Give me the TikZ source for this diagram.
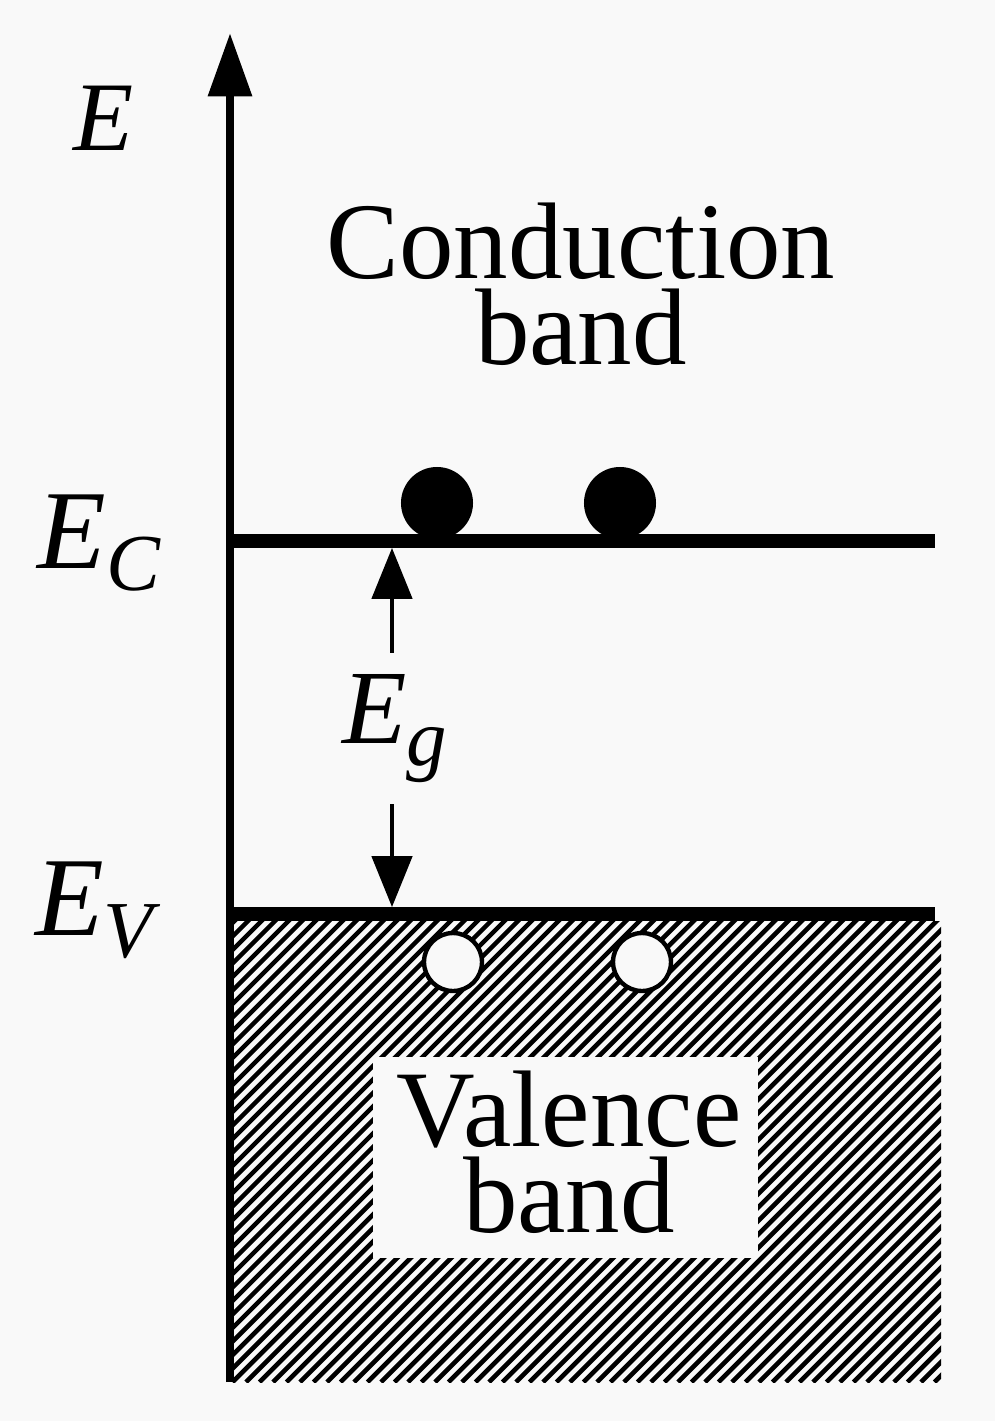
\documentclass[tikz,border=0pt]{standalone}
\usepackage{fontspec}
\setmainfont{Liberation Serif}
\usetikzlibrary{arrows.meta}
\definecolor{paper}{RGB}{249,249,249}
\newcommand{\lvlsub}[1]{\raisebox{-13pt}{\fontsize{46}{46}\selectfont\textit{#1}}}

\begin{document}
\begin{tikzpicture}[x=0.02cm, y=-0.02cm,
  level/.style={line width=8pt},
  axisline/.style={line width=5pt, -{Triangle[length=36pt, width=24pt]}},
  gaparrow/.style={line width=2pt, shorten <=12pt, -{Triangle[length=29pt, width=23pt]}},
  electron/.style={circle, fill=black, inner sep=0pt, minimum size=41pt},
  hole/.style={circle, draw=black, line width=2.5pt, fill=paper, inner sep=0pt, minimum size=33pt},
  bandtext/.style={font=\fontsize{62}{49}\selectfont, align=center, inner sep=0pt},
  elabel/.style={font=\fontsize{#1}{#1}\selectfont, inner sep=0pt, anchor=base}]
  \fill[paper] (0,0) rectangle (995,1421);
  \useasboundingbox (0,0) rectangle (995,1421);

  % axis ends and band edges
  \coordinate (eorig) at (230,1382);
  \coordinate (etop) at (230,33);
  \coordinate (ecl) at (230,541);
  \coordinate (ecr) at (935,541);
  \coordinate (evl) at (230,914);
  \coordinate (evr) at (935,914);
  \coordinate (gaptop) at (392,548);
  \coordinate (gapbot) at (392,907);

  % filled valence band
  \begin{scope}
    \clip (230,921) rectangle (941,1382);
    \foreach \x in {-240,-226.5,...,941}
      \draw[line width=2.6pt] (\x,1382) -- ++(470,-470);
  \end{scope}
  \fill[paper] (373,1057) rectangle (758,1258);

  \node[bandtext] (cband) at (581,284) {Conduction\\band};
  \node[bandtext] (vband) at (569,1152) {Valence\\band};

  \draw[level] (ecl) -- (ecr);
  \draw[level] (evl) -- (evr);
  \draw[axisline] (eorig) -- (etop);

  \node[elabel=56] (eaxis) at (104,150) {\textit{E}};
  \node[elabel=64] (eclabel) at (99,568) {\textit{E}\lvlsub{C}};
  \node[elabel=64] (evlabel) at (98,935) {\textit{E}\lvlsub{V}};
  \node[elabel=60] (eg) at (395,743) {\textit{E}\lvlsub{g}};

  \node[electron] (e1) at (437,503) {};
  \node[electron] (e2) at (620,503) {};
  \node[hole] (h1) at (453,962) {};
  \node[hole] (h2) at (642,962) {};

  \draw[gaparrow] (eg.north -| gaptop) -- (gaptop);
  \draw[gaparrow] (eg.south -| gapbot) -- (gapbot);
\end{tikzpicture}
\end{document}
